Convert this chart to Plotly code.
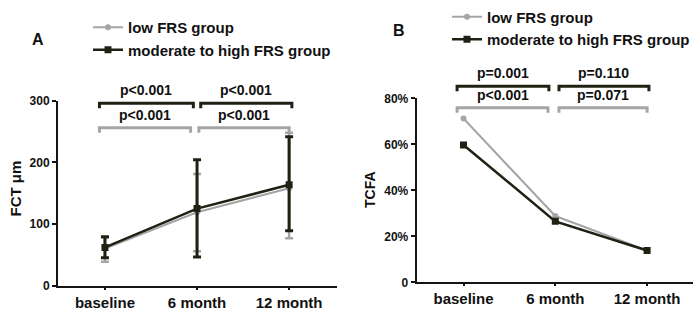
import plotly.graph_objects as go

# ---- data ----
categories = ["baseline", "6 month", "12 month"]

# Panel A: FCT (µm), mean with error bars
fct_low = [60, 119, 158]
fct_low_upper = [78, 181, 248]
fct_low_lower = [39, 56, 77]
fct_mod = [62, 125, 163.5]
fct_mod_upper = [79.5, 204, 241.5]
fct_mod_lower = [45.5, 46.5, 89]

# Panel B: TCFA (%)
tcfa_low = [71.2, 28.8, 13.9]
tcfa_mod = [59.7, 26.5, 13.8]

fct_ticks = [0, 100, 200, 300]
tcfa_ticks = [0, 20, 40, 60, 80]
tcfa_ticktext = ["0", "20%", "40%", "60%", "80%"]

# comparisons: (start, end, label, group)
pvals_A = [
    (-0.06, 0.96, "p<0.001", "mod"), (1.04, 2.03, "p<0.001", "mod"),
    (-0.06, 0.93, "p<0.001", "low"), (1.02, 2.0, "p<0.001", "low"),
]
pvals_B = [
    (-0.07, 0.93, "p=0.001", "mod"), (1.04, 2.02, "p=0.110", "mod"),
    (-0.07, 0.92, "p<0.001", "low"), (1.04, 2.0, "p=0.071", "low"),
]
bracket_level_A = {"mod": 295.6, "low": 256}
bracket_level_B = {"mod": 85.2, "low": 75.9}

# ---- style ----
W, H = 700, 310
DARK = "#1f2113"
GRAY = "#a5a5a5"
AXC = "#141414"
FONT = "Liberation Sans, Arial, sans-serif"

xA_dom = [58 / W, 337 / W]
yA_dom = [(H - 285.7) / H, (H - 100.6) / H]
xB_dom = [416.7 / W, 693 / W]
yB_dom = [(H - 282.3) / H, (H - 98.3) / H]
x_rng_A = [-0.51, 2.52]
x_rng_B = [-0.51, 2.5]
y_rng_A = [0, 300]
y_rng_B = [0, 80]

fig = go.Figure()
xi = list(range(len(categories)))

fig.add_trace(go.Scatter(
    x=xi, y=fct_low, mode="lines+markers", name="low FRS group",
    line=dict(color=GRAY, width=2), marker=dict(symbol="circle", size=6, color=GRAY),
    error_y=dict(type="data", symmetric=False,
                 array=[u - m for u, m in zip(fct_low_upper, fct_low)],
                 arrayminus=[m - l for m, l in zip(fct_low, fct_low_lower)],
                 color=GRAY, thickness=2.5, width=4),
    xaxis="x", yaxis="y", legend="legend"))
fig.add_trace(go.Scatter(
    x=xi, y=fct_mod, mode="lines+markers", name="moderate to high FRS group",
    line=dict(color=DARK, width=2.5), marker=dict(symbol="square", size=7, color=DARK),
    error_y=dict(type="data", symmetric=False,
                 array=[u - m for u, m in zip(fct_mod_upper, fct_mod)],
                 arrayminus=[m - l for m, l in zip(fct_mod, fct_mod_lower)],
                 color=DARK, thickness=3, width=4),
    xaxis="x", yaxis="y", legend="legend"))

fig.add_trace(go.Scatter(
    x=xi, y=tcfa_low, mode="lines+markers", name="low FRS group",
    line=dict(color=GRAY, width=2), marker=dict(symbol="circle", size=6, color=GRAY),
    xaxis="x2", yaxis="y2", legend="legend2"))
fig.add_trace(go.Scatter(
    x=xi, y=tcfa_mod, mode="lines+markers", name="moderate to high FRS group",
    line=dict(color=DARK, width=2.5), marker=dict(symbol="square", size=7, color=DARK),
    xaxis="x2", yaxis="y2", legend="legend2"))


def to_paper(v, dom, rng):
    return dom[0] + (v - rng[0]) / (rng[1] - rng[0]) * (dom[1] - dom[0])


shapes, annots = [], []
tick_px = 5 / H


def add_brackets(pvals, levels, xd, xr, yd, yr):
    for s, e, lab, grp in pvals:
        col = DARK if grp == "mod" else GRAY
        x0, x1 = to_paper(s, xd, xr), to_paper(e, xd, xr)
        yy = to_paper(levels[grp], yd, yr)
        shapes.append(dict(type="path", xref="paper", yref="paper",
                           path=f"M {x0},{yy - tick_px} L {x0},{yy} L {x1},{yy} L {x1},{yy - tick_px}",
                           line=dict(color=col, width=3)))
        annots.append(dict(x=(x0 + x1) / 2, y=yy + 3 / H, xref="paper", yref="paper",
                           text=lab, showarrow=False, xanchor="center", yanchor="bottom",
                           font=dict(family=FONT, size=14, color="#111", weight="bold")))


add_brackets(pvals_A, bracket_level_A, xA_dom, x_rng_A, yA_dom, y_rng_A)
add_brackets(pvals_B, bracket_level_B, xB_dom, x_rng_B, yB_dom, y_rng_B)

annots.append(dict(x=37.5 / W, y=(H - 39.5) / H, xref="paper", yref="paper", text="A",
                   xanchor="center", yanchor="middle",
                   showarrow=False, font=dict(family=FONT, size=16, color="#111", weight="bold")))
annots.append(dict(x=399 / W, y=(H - 30) / H, xref="paper", yref="paper", text="B",
                   xanchor="center", yanchor="middle",
                   showarrow=False, font=dict(family=FONT, size=16, color="#111", weight="bold")))

# y-axis titles (rotated)
annots.append(dict(x=14.5 / W, y=(H - 188) / H, xref="paper", yref="paper", text="FCT μm",
                   textangle=-90, xanchor="center", yanchor="middle", showarrow=False,
                   font=dict(family=FONT, size=15, color="#111", weight="bold")))
annots.append(dict(x=370 / W, y=(H - 190) / H, xref="paper", yref="paper", text="TCFA",
                   textangle=-90, xanchor="center", yanchor="middle", showarrow=False,
                   font=dict(family=FONT, size=14, color="#111", weight="bold")))

tickfont = dict(family=FONT, size=12, color="#111", weight="bold")
xtickfont = dict(family=FONT, size=15, color="#111", weight="bold")
common_x = dict(tickmode="array", tickvals=xi, ticktext=categories, showline=True,
                linecolor=AXC, linewidth=2, ticks="outside", ticklen=2, tickwidth=2,
                tickcolor=AXC, showgrid=False, zeroline=False, tickfont=xtickfont)
common_y = dict(showline=True, linecolor=AXC, linewidth=2, ticks="outside", ticklen=4,
                tickwidth=2, tickcolor=AXC, showgrid=False, zeroline=False, tickfont=tickfont)

legend_common = dict(font=dict(family=FONT, size=15, color="#111", weight="bold"),
                     bgcolor="rgba(0,0,0,0)", xanchor="left", yanchor="top",
                     tracegroupgap=0, itemwidth=30)

fig.update_layout(
    width=W, height=H, margin=dict(l=0, r=0, t=0, b=0, autoexpand=False),
    paper_bgcolor="white", plot_bgcolor="white",
    xaxis=dict(domain=xA_dom, range=x_rng_A, anchor="y", **common_x),
    yaxis=dict(domain=yA_dom, range=y_rng_A, anchor="x", tickvals=fct_ticks, **common_y),
    xaxis2=dict(domain=xB_dom, range=x_rng_B, anchor="y2", **common_x),
    yaxis2=dict(domain=yB_dom, range=y_rng_B, anchor="x2", tickvals=tcfa_ticks,
                ticktext=tcfa_ticktext, **common_y),
    legend=dict(x=88 / W, y=(H - 11) / H, **legend_common),
    legend2=dict(x=447 / W, y=(H - 0.5) / H, **legend_common),
    shapes=shapes, annotations=annots, showlegend=True,
)

fig.write_html("out.html", post_script="document.body.style.margin='0';",
               config={"displayModeBar": False})
